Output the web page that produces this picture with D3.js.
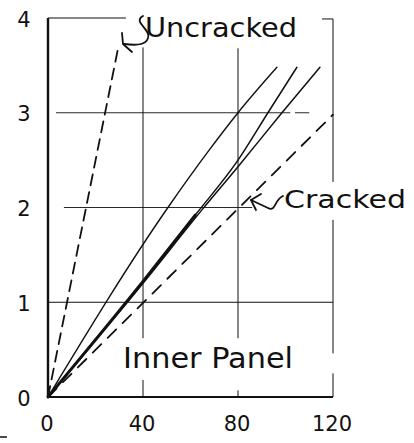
<!DOCTYPE html>
<html><head><meta charset="utf-8">
<script src="https://cdn.jsdelivr.net/npm/d3@7"></script>
<style>html,body{margin:0;padding:0;background:#fff;}svg{display:block;}</style>
</head><body>
<script>
// ---- data ----
const xTicks = [0, 40, 80, 120];
const yTicks = [0, 1, 2, 3, 4];
const lineA_x = [0, 50.5, 68, 80, 96.4];
const lineA_y = [0, 2.0, 2.61, 3.0, 3.48];
const lineB_x = [0, 40, 62, 80, 92.6, 104.8];
const lineB_y = [0, 1.22, 1.92, 2.5, 3.0, 3.48];
const lineC_x = [0, 40, 65, 80, 98.5, 114.5];
const lineC_y = [0, 1.2, 1.98, 2.43, 3.0, 3.48];
const uncracked_x = [0, 29.5];
const uncracked_y = [0, 3.68];
const cracked_x = [0, 120];
const cracked_y = [0, 2.98];
const labels = ["Uncracked", "Cracked", "Inner Panel"];

const W = 414, H = 443;
const svg = d3.select("body").append("svg").attr("width", W).attr("height", H);
const x = d3.scaleLinear().domain([0, 120]).range([48, 333]);
const y = d3.scaleLinear().domain([0, 4]).range([397, 18]);
const font = "DejaVu Sans, sans-serif";
const ink = "#111";

const g = svg.append("g");
function seg(x1, y1, x2, y2, w, dash) {
  const l = g.append("line").attr("x1", x(x1)).attr("y1", y(y1)).attr("x2", x(x2)).attr("y2", y(y2))
    .attr("stroke", ink).attr("stroke-width", w);
  if (dash) l.attr("stroke-dasharray", dash);
  return l;
}
// top border (partial)
seg(0, 4, 32.8, 4, 1.1);
// horizontal grid
seg(3.4, 3, 102, 3, 0.9);
seg(104, 3, 110, 3, 0.9);
seg(6.7, 2, 86, 2, 0.9);
seg(0, 1, 120, 1, 1);
// vertical grid x=40
seg(40, 3.69, 40, 0.62, 1);
seg(40, 0.18, 40, 0, 1);
// vertical grid x=80
seg(80, 3.68, 80, 0.62, 1);
seg(80, 0.07, 80, 0, 1);
// right border x=120
seg(120, 3.99, 120, 2.27, 1);
seg(120, 1.87, 120, 0.46, 1);
seg(120, 0.25, 120, 0, 1);
seg(115.4, 3.99, 120, 3.99, 1);
// axes
seg(0, 0, 0, 4, 2.4);
seg(0, 0, 120, 0, 2.2);
// stray mark
g.append("line").attr("x1", 0).attr("y1", 437).attr("x2", 7).attr("y2", 437).attr("stroke", ink).attr("stroke-width", 1.5);

// tick labels
svg.selectAll(".yl").data(yTicks).join("text")
  .attr("x", 24).attr("y", d => y(d) + 8.5).attr("text-anchor", "middle")
  .attr("font-family", font).attr("font-size", 21).attr("fill", ink).text(d => d);
svg.selectAll(".xl").data(xTicks).join("text")
  .attr("x", d => x(d) - 1).attr("y", 431).attr("text-anchor", "middle")
  .attr("font-family", font).attr("font-size", 21).attr("fill", ink).text(d => d);

// series
const line = d3.line().x(d => x(d[0])).y(d => y(d[1])).curve(d3.curveMonotoneX);
function draw(xs, ys, w, dash) {
  const p = svg.append("path").datum(xs.map((v, i) => [v, ys[i]])).attr("d", line)
    .attr("fill", "none").attr("stroke", ink).attr("stroke-width", w).attr("stroke-linecap", "round");
  if (dash) p.attr("stroke-dasharray", dash);
}
draw(uncracked_x, uncracked_y, 1.8, "11,7");
draw(cracked_x, cracked_y, 1.8, "12,9");
draw(lineA_x, lineA_y, 1.4);
draw(lineB_x, lineB_y, 1.5);
draw(lineC_x, lineC_y, 1.5);
// thick lower portion of B/C
draw(lineB_x.slice(0, 3), lineB_y.slice(0, 3), 3);

// annotations
function txt(t, xx, yy, fs, len) {
  svg.append("text").attr("x", xx).attr("y", yy).attr("font-family", font).attr("font-size", fs)
    .attr("fill", ink).attr("textLength", len).attr("lengthAdjust", "spacingAndGlyphs").text(t);
}
txt(labels[0], 145, 37, 27, 152);
txt(labels[1], 284, 208, 25, 122);
txt(labels[2], 123, 368, 28, 170);

// arrows
const a = svg.append("g").attr("fill", "none").attr("stroke", ink).attr("stroke-width", 1.8)
  .attr("stroke-linecap", "round").attr("stroke-linejoin", "round");
a.append("path").attr("d", "M143,16 C132,22 152,30 148,38 C146,44 140,46 124,44");
a.append("path").attr("d", "M122,33 L123,44 L132,52");
a.append("path").attr("d", "M251,200 L268,208 C276,212 274,200 283,196");
a.append("path").attr("d", "M261,194 L251,200 L256,210");
</script>
</body></html>
